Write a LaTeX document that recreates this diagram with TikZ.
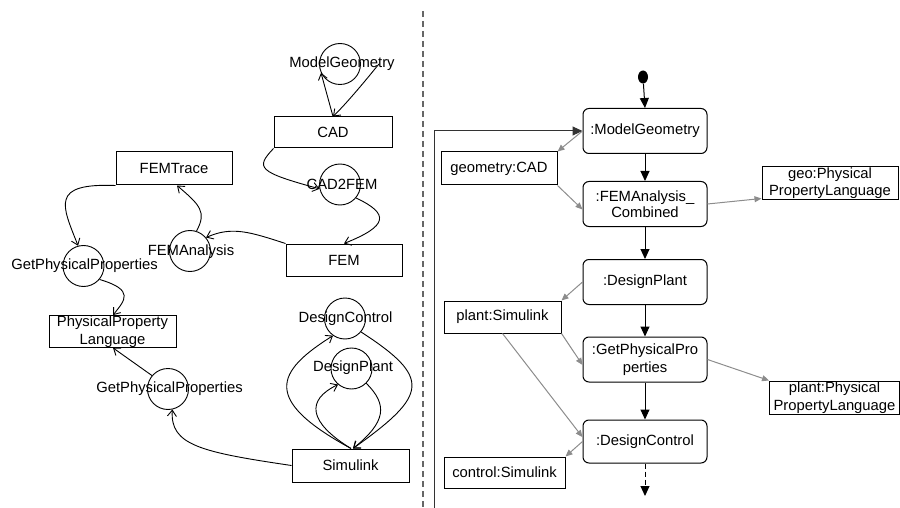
\documentclass[tikz,border=0pt]{standalone}
\usepackage{fontspec}
\setmainfont{Liberation Sans}
\usetikzlibrary{arrows.meta,shapes.geometric}
\begin{document}
\begin{tikzpicture}[x=1pt,y=-1pt,
  every node/.style={font=\fontsize{14.8}{17}\selectfont, inner sep=0pt},
  box/.style={draw, line width=1pt, align=center},
  rbox/.style={draw, line width=1pt, rounded corners=6pt, align=center, minimum width=124pt, minimum height=45pt},
  circ/.style={draw, circle, line width=0.9pt, minimum size=41pt},
  tip/.style={-{Straight Barb[length=6pt,width=9pt,line width=0.9pt]}, line width=0.9pt},
  flow/.style={-{Triangle[length=10pt,width=9pt]}, line width=1pt},
  obj/.style={-{Triangle[length=7pt,width=6pt]}, draw=black!45, line width=1pt},
]
\useasboundingbox (0,0) rectangle (900,508);

% ---------- left graph ----------
\node[circ] (mg) at (340,64) {};
\node (mgl) at (342,64) {ModelGeometry};
\node[box, minimum width=118pt, minimum height=31pt] (cad) at (333,132.5) {CAD};
\node[circ] (c2f) at (340,184.5) {};
\node (c2fl) at (342,184) {CAD2FEM};
\node[box, minimum width=116pt, minimum height=33pt] (femtrace) at (174,168.5) {FEMTrace};
\node[box, minimum width=116pt, minimum height=32pt] (fem) at (344,260) {FEM};
\node[circ] (fa) at (190,251) {};
\node (fal) at (191,252) {FEMAnalysis};
\node[circ] (gpa) at (83.5,266) {};
\node (gpal) at (84.5,266) {GetPhysicalProperties};
\node[box, minimum width=127pt, minimum height=31pt, font=\fontsize{14.8}{18}\selectfont] (ppl) at (112.5,331.5) {PhysicalProperty\\Language};
\node[circ] (gpb) at (168,389) {};
\node (gpbl) at (169.5,388.5) {GetPhysicalProperties};
\node[box, minimum width=117pt, minimum height=33pt] (sim) at (350.5,465.5) {Simulink};
\node[circ] (dc) at (345,318.5) {};
\node (dcl) at (345.5,319) {DesignControl};
\node[circ] (dp) at (351.5,368.5) {};
\node (dpl) at (353,368) {DesignPlant};

\draw[tip] (cad.north) -- (mg.205);
\draw[tip] ([xshift=18pt]mg.east) .. controls (374,70) and (350,100) .. (cad.north);
\draw[tip] (cad.south west) .. controls (255,168) and (258,172) .. (c2f.192);
\draw[tip] (c2f.-40) .. controls (390,214) and (388,226) .. (fem.north);
\draw[tip] (fem.north west) .. controls (250,232) and (232,226) .. (fa.40);
\draw[tip] (fa.72) .. controls (207,212) and (200,205) .. ([xshift=3pt]femtrace.south);
\draw[tip] (femtrace.south west) .. controls (50,183) and (62,205) .. (gpa.105);
\draw[tip] (gpa.-40) .. controls (135,290) and (125,300) .. ([xshift=0.5pt]ppl.north);
\draw[tip] (gpb.140) -- ([xshift=0.5pt]ppl.south);
\draw[tip] (sim.west) .. controls (200,452) and (170,445) .. (gpb.-78);
\draw[tip] ([xshift=0.5pt]sim.north) .. controls (262,400) and (275,372) .. (dc.-125);
\draw[tip] (dc.-40) .. controls (432,378) and (428,395) .. ([xshift=2.5pt]sim.north);
\draw[tip] ([xshift=0.5pt]sim.north) .. controls (308,422) and (306,400) .. (dp.-130);
\draw[tip] (dp.-45) .. controls (388,405) and (386,422) .. ([xshift=2.5pt]sim.north);

% ---------- separator ----------
\coordinate (septop) at (423,11);
\coordinate (sepbot) at (423,508);
\draw[black!60, line width=1.4pt, dash pattern=on 6pt off 4pt] (septop) -- (sepbot);

% ---------- right activity ----------
\node[fill, ellipse, minimum width=10pt, minimum height=13pt] (start) at (643,77) {};
\node[rbox] (amg) at (645,131) {:ModelGeometry};
\node[rbox, font=\fontsize{14.8}{15.5}\selectfont] (afe) at (645,204) {:FEMAnalysis\_\\Combined};
\node[rbox] (adp) at (645,282) {:DesignPlant};
\node[rbox, font=\fontsize{14.8}{18}\selectfont] (agp) at (645,359.5) {:GetPhysicalPro\\perties};
\node[rbox, minimum height=43pt] (adc) at (645,441.5) {:DesignControl};

\node[box, minimum width=116pt, minimum height=33pt] (gcad) at (499,168.5) {geometry:CAD};
\node[box, minimum width=136pt, minimum height=32pt, font=\fontsize{14.8}{17.5}\selectfont] (gppl) at (830,183) {geo:Physical\\PropertyLanguage};
\node[box, minimum width=117pt, minimum height=32pt] (psim) at (502.5,317) {plant:Simulink};
\node[box, minimum width=130pt, minimum height=33pt, font=\fontsize{14.8}{17.5}\selectfont] (pppl) at (834.5,397.5) {plant:Physical\\PropertyLanguage};
\node[box, minimum width=121pt, minimum height=31pt] (csim) at (504.5,472.5) {control:Simulink};

\coordinate (loopbot) at (434,508);
\coordinate (flowend) at (645,496);

\draw[flow] (start) -- (amg.north);
\draw[flow] (amg.south) -- (afe.north);
\draw[flow] (afe.south) -- (adp.north);
\draw[flow] (adp.south) -- (agp.north);
\draw[flow] (agp.south) -- (adc.north);
\draw[flow, dash pattern=on 5pt off 3pt] (adc.south) -- (flowend);
\draw[flow, draw=black!80] (loopbot) |- (amg.west);

\draw[obj] (amg.west) -- (gcad.north east);
\draw[obj] (gcad.south east) -- (afe.185);
\draw[obj] (afe.east) -- ([yshift=1pt]gppl.south west);
\draw[obj] (adp.west) -- (psim.north east);
\draw[obj] (psim.south east) -- (agp.185);
\draw[obj] (agp.east) -- (pppl.north west);
\draw[obj] (psim.south) -- (adc.176);
\draw[obj] (adc.west) -- (csim.north east);
\end{tikzpicture}
\end{document}
